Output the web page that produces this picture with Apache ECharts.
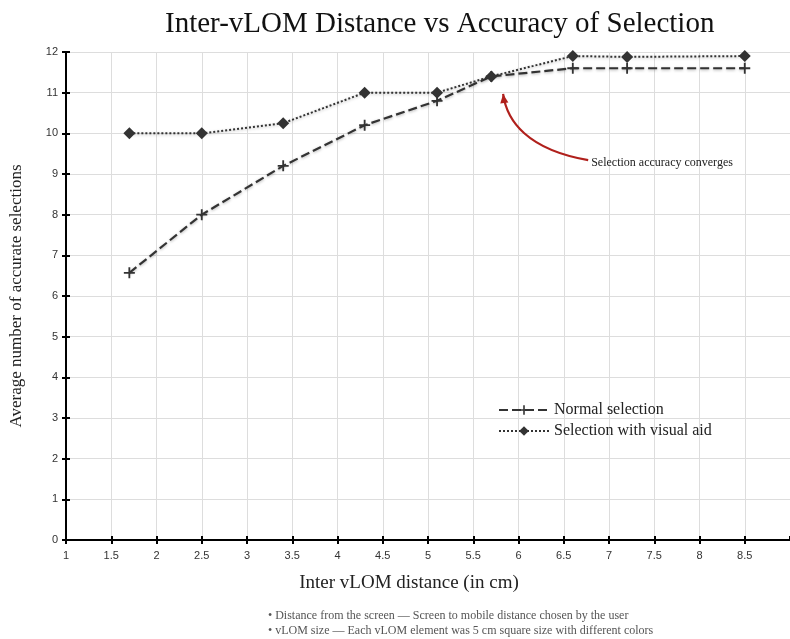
<!DOCTYPE html>
<html><head><meta charset="utf-8">
<script src="https://cdn.jsdelivr.net/npm/echarts@6/dist/echarts.min.js"></script>
<style>html,body{margin:0;padding:0;background:#fff}#c{width:790px;height:639px}</style>
</head><body><div id="c"></div>
<script>
const xValues = [1.7, 2.5, 3.4, 4.3, 5.1, 5.7, 6.6, 7.2, 8.5];
const normalSel = [6.57, 8.0, 9.2, 10.2, 10.8, 11.4, 11.6, 11.6, 11.6];
const visualAid = [10.0, 10.0, 10.25, 11.0, 11.0, 11.4, 11.9, 11.88, 11.9];
const seriesNames = ['Normal selection', 'Selection with visual aid'];
const titleText = 'Inter-vLOM Distance vs Accuracy of Selection';
const xName = 'Inter vLOM distance (in cm)';
const yName = 'Average number of accurate selections';
const notes = ['• Distance from the screen — Screen to mobile distance chosen by the user',
               '• vLOM size — Each vLOM element was 5 cm square size with different colors'];
const annotText = 'Selection accuracy converges';

const serif = '"Liberation Serif", "DejaVu Serif", serif';
const plus = 'path://M-1,-6 L1,-6 L1,-1 L6,-1 L6,1 L1,1 L1,6 L-1,6 L-1,1 L-6,1 L-6,-1 L-1,-1 Z';
const chart = echarts.init(document.getElementById('c'));
const pair = (xs, ys) => xs.map((x, i) => [x, ys[i]]);
const axisCommonX = {type: 'value', min: 1, max: 9, interval: 0.5};
chart.setOption({
  animation: false,
  title: {text: titleText, left: 160, top: 5,
    textStyle: {fontFamily: serif, fontSize: 29, fontWeight: 'normal', color: '#111'}},
  grid: {left: 66, right: -2, top: 52, bottom: 99},
  legend: {left: 493, top: 397, orient: 'vertical', itemGap: 5, itemWidth: 50, itemHeight: 12,
    textStyle: {fontFamily: serif, fontSize: 16, color: '#222'}, data: seriesNames},
  xAxis: [
    Object.assign({}, axisCommonX, {
      name: xName, nameLocation: 'middle', nameGap: 34,
      nameTextStyle: {fontFamily: serif, fontSize: 19, color: '#222', padding: [0, 38, 0, 0]},
      axisLine: {lineStyle: {color: '#000', width: 2}},
      axisTick: {show: true, length: 4, lineStyle: {color: '#000', width: 2}},
      axisLabel: {showMaxLabel: false, color: '#333', fontSize: 11, margin: 10,
        fontFamily: '"Liberation Sans Narrow", "Liberation Sans", sans-serif',
        formatter: v => String(v)},
      splitLine: {show: true, lineStyle: {color: '#ddd', width: 1}}
    }),
    Object.assign({}, axisCommonX, {
      position: 'bottom', axisLine: {show: false}, axisLabel: {show: false}, splitLine: {show: false},
      axisTick: {show: true, inside: true, length: 4, lineStyle: {color: '#000', width: 2}}
    })
  ],
  yAxis: [
    {type: 'value', min: 0, max: 12, interval: 1,
      name: yName, nameLocation: 'middle', nameGap: 41,
      nameTextStyle: {fontFamily: serif, fontSize: 17, color: '#222'},
      axisLine: {show: true, lineStyle: {color: '#000', width: 2}},
      axisTick: {show: true, length: 4, lineStyle: {color: '#000', width: 2}},
      axisLabel: {color: '#333', fontSize: 11, margin: 8, fontFamily: '"Liberation Sans", sans-serif'},
      splitLine: {show: true, lineStyle: {color: '#ddd', width: 1}}},
    {type: 'value', min: 0, max: 12, interval: 1, position: 'left',
      axisLine: {show: false}, axisLabel: {show: false}, splitLine: {show: false},
      axisTick: {show: true, inside: true, length: 4, lineStyle: {color: '#000', width: 2}}}
  ],
  series: [
    {name: seriesNames[0], type: 'line', data: pair(xValues, normalSel),
      symbol: plus, symbolSize: 11, itemStyle: {color: '#333'},
      lineStyle: {color: '#333', width: 2.2, type: [9, 4], shadowColor: 'rgba(0,0,0,0.3)', shadowBlur: 3, shadowOffsetY: 1}},
    {name: seriesNames[1], type: 'line', data: pair(xValues, visualAid),
      symbol: 'diamond', symbolSize: 12, itemStyle: {color: '#333'},
      lineStyle: {color: '#333', width: 2, type: [2, 2], shadowColor: 'rgba(0,0,0,0.3)', shadowBlur: 3, shadowOffsetY: 1}}
  ]
});

function place() {
  const px = v => chart.convertToPixel({xAxisIndex: 0, yAxisIndex: 0}, v);
  const p0 = px([6.77, 9.34]);
  const p1 = px([5.83, 10.97]);
  const c1 = px([6.1, 9.6]);
  const c2 = px([5.87, 10.3]);
  const ang = Math.atan2(p1[1] - c2[1], p1[0] - c2[0]);
  const L = 10, W = 0.42;
  const a1 = [p1[0] - L * Math.cos(ang - W), p1[1] - L * Math.sin(ang - W)];
  const a2 = [p1[0] - L * Math.cos(ang + W), p1[1] - L * Math.sin(ang + W)];
  chart.setOption({graphic: [
    {type: 'bezierCurve', shape: {x1: p0[0], y1: p0[1], cpx1: c1[0], cpy1: c1[1], cpx2: c2[0], cpy2: c2[1], x2: p1[0], y2: p1[1]},
      style: {stroke: '#b0201c', lineWidth: 2.2, fill: null}},
    {type: 'polygon', shape: {points: [p1, a1, a2]}, style: {fill: '#b0201c'}},
    {type: 'text', x: p0[0] + 3, y: p0[1] + 3, style: {text: annotText, font: '12px ' + serif, fill: '#222', textVerticalAlign: 'middle'}},
    {type: 'text', left: 268, top: 608, style: {text: notes.join('\n'), font: '12px ' + serif, fill: '#555', lineHeight: 15}}
  ]});
}
place();
</script></body></html>
